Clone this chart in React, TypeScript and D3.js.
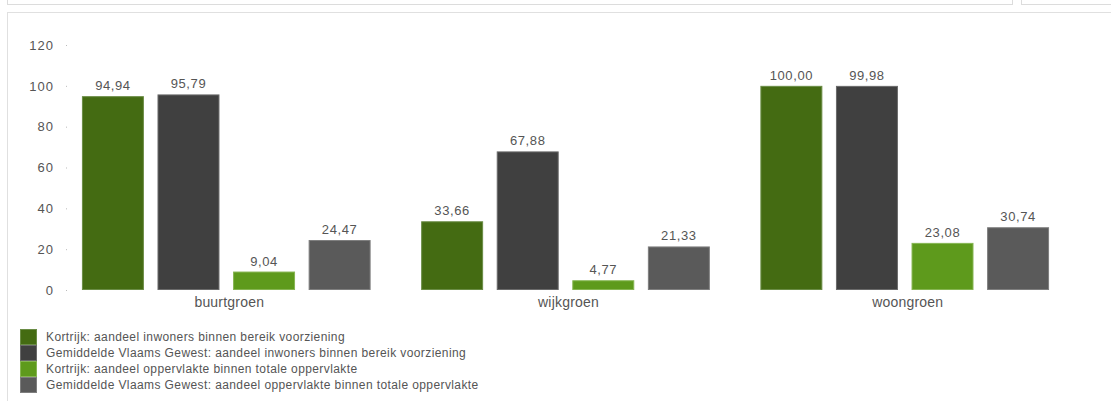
import React from "react";
import * as d3 from "d3";

const categories = ["buurtgroen", "wijkgroen", "woongroen"];
const seriesNames = [
  "Kortrijk: aandeel inwoners binnen bereik voorziening",
  "Gemiddelde Vlaams Gewest: aandeel inwoners binnen bereik voorziening",
  "Kortrijk: aandeel oppervlakte binnen totale oppervlakte",
  "Gemiddelde Vlaams Gewest: aandeel oppervlakte binnen totale oppervlakte",
];
const kortrijkInwoners = [94.94, 33.66, 100.0];
const vlaamsInwoners = [95.79, 67.88, 99.98];
const kortrijkOpp = [9.04, 4.77, 23.08];
const vlaamsOpp = [24.47, 21.33, 30.74];
const yTicks = [0, 20, 40, 60, 80, 100, 120];

const seriesValues = [kortrijkInwoners, vlaamsInwoners, kortrijkOpp, vlaamsOpp];
const colors = ["#446b12", "#404040", "#5e9a1c", "#5a5a5a"];
const strokes = ["#6a8c45", "#6a6a6a", "#86b552", "#7e7e7e"];

const fmt = (v: number) => v.toFixed(2).replace(".", ",");

export default function App() {
  const W = 1111;
  const H = 401;
  const y = d3.scaleLinear().domain([0, 120]).range([290, 45]);
  const x0 = d3
    .scaleBand<string>()
    .domain(categories)
    .range([67, 1064])
    .paddingInner(0.149)
    .paddingOuter(0.044);
  const x1 = d3
    .scaleBand<number>()
    .domain(d3.range(seriesValues.length))
    .range([0, x0.bandwidth()])
    .paddingInner(0.18)
    .paddingOuter(0);
  const font = "Arial, 'Liberation Sans', sans-serif";

  return (
    <svg
      width={W}
      height={H}
      style={{ position: "absolute", left: 0, top: 0, fontFamily: font }}
    >
      <rect x={0} y={0} width={W} height={H} fill="#fff" />
      {/* panel borders */}
      <rect x={7.5} y={-10} width={1005} height={14.5} fill="none" stroke="#dcdcdc" />
      <rect x={1021.5} y={-10} width={100} height={14.5} fill="none" stroke="#dcdcdc" />
      <rect x={7.5} y={12.5} width={1110} height={400} fill="none" stroke="#e0e0e0" />
      {/* y axis */}
      {yTicks.map((t) => (
        <g key={t}>
          <text
            x={54}
            y={y(t)}
            dy="0.36em"
            textAnchor="end"
            fontSize={13}
            fill="#555"
            letterSpacing={1}
          >
            {t}
          </text>
          <rect x={66} y={y(t)} width={1} height={1} fill="#bbb" />
        </g>
      ))}
      {/* bars */}
      {categories.map((c, ci) => (
        <g key={c} transform={`translate(${x0(c)},0)`}>
          {seriesValues.map((vals, si) => {
            const v = vals[ci];
            const bx = x1(si)!;
            const bw = x1.bandwidth();
            return (
              <g key={si}>
                <rect
                  x={bx + 0.5}
                  y={y(v) + 0.5}
                  width={bw - 1}
                  height={y(0) - y(v) - 1}
                  fill={colors[si]}
                  stroke={strokes[si]}
                  strokeWidth={1}
                />
                <text
                  x={bx + bw / 2}
                  y={y(v) - 6}
                  textAnchor="middle"
                  fontSize={13}
                  fill="#555"
                  letterSpacing={0.6}
                >
                  {fmt(v)}
                </text>
              </g>
            );
          })}
          <text
            x={x0.bandwidth() / 2 + 3}
            y={307}
            textAnchor="middle"
            fontSize={14}
            fill="#555"
            letterSpacing={0.2}
          >
            {c}
          </text>
        </g>
      ))}
      {/* legend */}
      {seriesNames.map((n, i) => (
        <g key={n} transform={`translate(20,${329 + i * 16})`}>
          <rect x={0.5} y={0.5} width={16} height={15} fill={colors[i]} stroke={strokes[i]} />
          <text x={26} y={8} dy="0.35em" fontSize={12} fill="#555" letterSpacing={0.4}>
            {n}
          </text>
        </g>
      ))}
    </svg>
  );
}
